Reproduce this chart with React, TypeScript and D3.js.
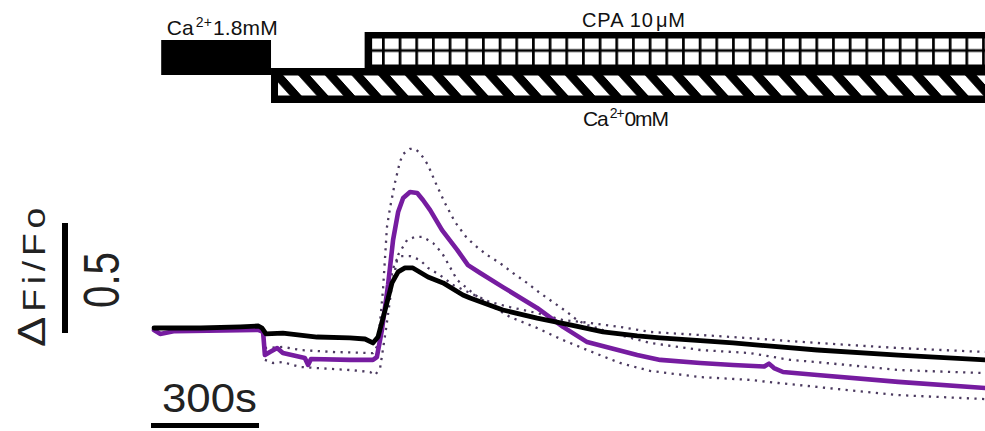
import React from 'react';
import * as d3 from 'd3';

type Pt = [number, number];

// Protocol periods (seconds)
const caNormalPeriod: Pt = [20, 325];
const caFreePeriod: Pt = [325, 2345];
const cpaPeriod: Pt = [585, 2345];

// Labels
const caNormalLabel = ['Ca', '2+', '1.8mM'];
const caFreeLabel = ['Ca', '2+', '0mM'];
const cpaLabel = ['CPA 10', 'μ', 'M'];
const yLabel = ['Δ', 'Fi/Fo'];
const ampBar = 0.5;
const ampBarLabel = '0.5';
const timeBar = 300;
const timeBarLabel = '300s';

// Traces: [time (s), ΔFi/Fo]
const blackTrace: Pt[] = [
  [0, 0], [130, 0], [240, 0.005], [290, 0.009], [300, 0], [311, -0.027], [358, -0.023],
  [453, -0.041], [544, -0.045], [586, -0.05], [608, -0.068], [622, -0.041], [642, 0.082],
  [661, 0.205], [678, 0.255], [697, 0.273], [719, 0.273], [761, 0.232], [803, 0.205],
  [858, 0.15], [878, 0.136], [969, 0.082], [1064, 0.045], [1156, 0.014], [1247, -0.018],
  [1342, -0.036], [1406, -0.045], [1608, -0.068], [1842, -0.1], [2067, -0.123], [2308, -0.145],
];

const blackUpper: Pt[] = [
  [628, -0.032], [650, 0.173], [669, 0.3], [683, 0.327], [711, 0.327], [739, 0.309],
  [761, 0.273], [794, 0.241], [831, 0.195], [878, 0.159], [933, 0.118], [989, 0.095],
  [1064, 0.068], [1136, 0.036], [1211, 0.023], [1294, 0.005], [1378, -0.018], [1608, -0.041],
  [1842, -0.068], [2067, -0.091], [2308, -0.109],
];

const purpleTrace: Pt[] = [
  [0, -0.009], [17, -0.027], [58, -0.014], [289, -0.009], [303, -0.018], [308, -0.123],
  [322, -0.109], [342, -0.091], [358, -0.114], [419, -0.136], [428, -0.168], [436, -0.141],
  [544, -0.145], [608, -0.145], [619, -0.132], [633, -0.009], [650, 0.195], [664, 0.4],
  [678, 0.527], [692, 0.591], [711, 0.618], [731, 0.614], [747, 0.582], [767, 0.536],
  [800, 0.445], [842, 0.355], [872, 0.286], [906, 0.25], [969, 0.186], [1064, 0.091],
  [1136, 0.005], [1203, -0.064], [1267, -0.091], [1342, -0.123], [1406, -0.145],
  [1517, -0.159], [1608, -0.168], [1695, -0.175], [1708, -0.162], [1722, -0.182],
  [1747, -0.2], [1842, -0.214], [2067, -0.245], [2308, -0.273],
];

const purpleUpper: Pt[] = [
  [308, -0.091], [358, -0.086], [406, -0.1], [497, -0.109], [608, -0.114], [622, -0.077],
  [636, 0.173], [647, 0.459], [656, 0.55], [669, 0.659], [683, 0.755], [692, 0.791],
  [711, 0.814], [725, 0.814], [739, 0.795], [761, 0.741], [781, 0.664], [808, 0.568],
  [836, 0.482], [869, 0.409], [900, 0.364], [925, 0.332], [961, 0.295], [997, 0.25],
  [1036, 0.205], [1072, 0.159], [1108, 0.118], [1147, 0.073], [1175, 0.036], [1203, 0.014],
  [1247, -0.009], [1294, -0.032], [1378, -0.068], [1517, -0.1], [1656, -0.114],
  [1767, -0.145], [1842, -0.155], [2067, -0.191], [2308, -0.205],
];

const purpleLower: Pt[] = [
  [308, -0.145], [331, -0.159], [358, -0.155], [406, -0.177], [453, -0.182], [544, -0.191],
  [600, -0.2], [614, -0.214], [628, -0.182], [644, -0.009], [661, 0.195], [678, 0.332],
  [703, 0.4], [725, 0.414], [747, 0.414], [775, 0.386], [800, 0.341], [822, 0.277],
  [842, 0.218], [892, 0.15], [947, 0.091], [989, 0.05], [1064, 0], [1136, -0.055],
  [1203, -0.1], [1294, -0.159], [1378, -0.195], [1517, -0.223], [1656, -0.236],
  [1733, -0.25], [1842, -0.268], [2067, -0.305], [2308, -0.323],
];

const FONT = '"Liberation Sans", Arial, Helvetica, sans-serif';
const PURPLE = '#761ca0';
const DOT = '#4b3a5f';

export default function App() {
  const W = 985;
  const H = 431;
  const x = d3.scaleLinear().domain([0, 2308]).range([154, 985]);
  const y = d3.scaleLinear().domain([0, 0.5]).range([328, 218]);
  const line = d3.line<Pt>().x((d) => x(d[0])).y((d) => y(d[1]));

  const dotted = (data: Pt[], key: string) => (
    <path key={key} d={line(data) || ''} fill="none" stroke={DOT} strokeWidth={2.3}
      strokeDasharray="2.2,5.4" />
  );

  const ca0x = x(caFreePeriod[0]);
  const ca0end = x(caFreePeriod[1]);
  const cpax = x(cpaPeriod[0]);
  const cpaend = x(cpaPeriod[1]);

  const timeLen = x(timeBar) - x(0);
  const ampLen = y(0) - y(ampBar);

  return (
    <svg width={W} height={H} style={{ position: 'absolute', left: 0, top: 0, background: '#fff' }}
      fontFamily={FONT}>
      <defs>
        <pattern id="stripes" patternUnits="userSpaceOnUse" x={2.1} y={0} width={26.67} height={40}
          patternTransform="skewX(42)">
          <rect x={0} y={0} width={26.67} height={40} fill="#000" />
          <rect x={0} y={0} width={15} height={40} fill="#fff" />
        </pattern>
        <pattern id="grid" patternUnits="userSpaceOnUse" x={382} y={38.5} width={16.67} height={26}>
          <rect x={0} y={0} width={16.67} height={26} fill="#fff" />
          <rect x={0} y={0} width={2.7} height={26} fill="#000" />
          <rect x={0} y={10.7} width={16.67} height={2.7} fill="#000" />
        </pattern>
      </defs>

      {/* Ca 1.8mM bar */}
      <rect x={x(caNormalPeriod[0])} y={40} width={x(caNormalPeriod[1]) - x(caNormalPeriod[0])}
        height={35} fill="#000" />
      <text x={x(caNormalPeriod[0]) + 5.5} y={35} fontSize={21} fill="#111"
        textLength={111} lengthAdjust="spacing">
        {caNormalLabel[0]}
        <tspan dx={2} dy={-8} fontSize={14}>{caNormalLabel[1]}</tspan>
        <tspan dx={1} dy={8} fontSize={21}>{caNormalLabel[2]}</tspan>
      </text>

      {/* Ca 0mM bar */}
      <rect x={ca0x} y={68} width={ca0end - ca0x} height={35} fill="#000" />
      <rect x={ca0x + 7} y={75.5} width={ca0end - ca0x} height={20} fill="url(#stripes)" />

      {/* CPA bar */}
      <rect x={cpax} y={32} width={cpaend - cpax} height={40} fill="#000" />
      <rect x={cpax + 7.5} y={38.5} width={cpaend - cpax} height={26} fill="url(#grid)" />

      <text x={582} y={26.5} fontSize={20} fill="#111" textLength={103} lengthAdjust="spacing">
        {cpaLabel[0]}
        <tspan dx={2}>{cpaLabel[1]}</tspan>
        <tspan>{cpaLabel[2]}</tspan>
      </text>

      <text x={583} y={125.5} fontSize={21} fill="#111" textLength={86} lengthAdjust="spacing">
        {caFreeLabel[0]}
        <tspan dx={2} dy={-8} fontSize={14}>{caFreeLabel[1]}</tspan>
        <tspan dx={1} dy={8} fontSize={21}>{caFreeLabel[2]}</tspan>
      </text>

      {/* dotted error envelopes */}
      {dotted(purpleUpper, 'pu')}
      {dotted(purpleLower, 'pl')}
      {dotted(blackUpper, 'bu')}

      {/* traces */}
      <path d={line(purpleTrace) || ''} fill="none" stroke={PURPLE} strokeWidth={4.6}
        strokeLinejoin="round" strokeLinecap="round" />
      <path d={line(blackTrace) || ''} fill="none" stroke="#000" strokeWidth={4.8}
        strokeLinejoin="round" strokeLinecap="round" />

      {/* amplitude scale bar */}
      <line x1={65} x2={65} y1={223} y2={223 + ampLen} stroke="#000" strokeWidth={6} />
      <text transform="translate(45,347) rotate(-90)" fontSize={31} fill="#222"
        letterSpacing={4} textLength={144} lengthAdjust="spacingAndGlyphs">
        <tspan fontSize={38}>{yLabel[0]}</tspan>
        <tspan>{yLabel[1]}</tspan>
      </text>
      <text transform="translate(119,280) rotate(-90)" fontSize={50} fill="#222"
        textAnchor="middle" textLength={56} lengthAdjust="spacingAndGlyphs">
        {ampBarLabel}
      </text>

      {/* time scale bar */}
      <line x1={151} x2={151 + timeLen} y1={425.5} y2={425.5} stroke="#000" strokeWidth={5} />
      <text x={162} y={411.5} fontSize={40} fill="#222" textLength={95}
        lengthAdjust="spacingAndGlyphs">
        {timeBarLabel}
      </text>
    </svg>
  );
}
